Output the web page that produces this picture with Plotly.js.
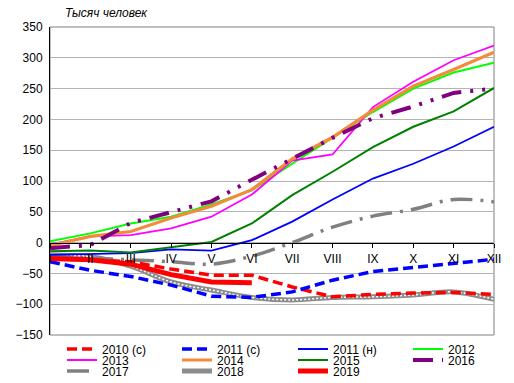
<!DOCTYPE html>
<html>
<head>
<meta charset="utf-8">
<script src="https://cdn.plot.ly/plotly-3.0.1.min.js"></script>
<style>html,body{margin:0;padding:0;background:#fff}#chart{width:514px;height:383px}</style>
</head>
<body>
<div id="chart"></div>
<script>
var months = ['I','II','III','IV','V','VI','VII','VIII','IX','X','XI','XII'];
var y2010c = [-26,-28,-31,-43,-53,-53,-72,-88,-84,-82,-81,-84];
var y2011c = [-31,-45,-55,-69,-87,-89,-80,-61,-47,-40,-34,-27];
var y2011n = [-20,-19,-17,-11,-13,4,34,70,104,128,156,188];
var y2012 = [2,15,31,42,62,85,128,170,212,250,276,292];
var y2013 = [-3,10,12,23,42,78,133,143,220,261,296,320];
var y2014 = [-5,10,18,40,59,86,136,171,215,254,281,309];
var y2015 = [-14,-13,-16,-7,1,31,77,115,155,188,213,251];
var y2016 = [-9,-4,32,50,67,102,136,170,202,221,243,250];
var y2017 = [-22,-25,-28,-31,-35,-22,0,25,43,54,70,66];
var y2018 = [-20,-23,-38,-64,-77,-89,-93,-89,-88,-85,-80,-92];
var y2019 = [-26,-28,-35,-52,-64,-65];

var names = ['2010 (с)','2011 (с)','2011 (н)','2012','2013','2014','2015','2016','2017','2018','2019'];

function tr(name, y, line, legend, extra) {
  var t = {type:'scatter', mode:'lines', name:name, x:months.slice(0, y.length), y:y,
           line:line, legend:legend, hoverinfo:'skip'};
  if (extra) for (var k in extra) t[k] = extra[k];
  return t;
}

// one legend per entry, laid out in a 4-column grid like the reference
var traces = [
  tr(names[9], y2018, {color:'#8c8c8c', width:5, shape:'spline'}, 'legend10'),
  tr('2018w', y2018, {color:'#ffffff', width:1.5, dash:'2px,2px', shape:'spline'}, 'legend10', {showlegend:false}),
  tr(names[8], y2017, {color:'#808080', width:3.5, dash:'22px,8px,3px,8px', shape:'spline'}, 'legend9'),
  tr(names[0], y2010c, {color:'#ff0000', width:3.5, dash:'10px,5px'}, 'legend'),
  tr(names[1], y2011c, {color:'#0000ff', width:3.5, dash:'10px,5px'}, 'legend2'),
  tr(names[2], y2011n, {color:'#0000ff', width:1.8}, 'legend3'),
  tr(names[3], y2012, {color:'#00ff00', width:2}, 'legend4'),
  tr(names[4], y2013, {color:'#ff00ff', width:1.8}, 'legend5'),
  tr(names[5], y2014, {color:'#f28c3c', width:3.2}, 'legend6'),
  tr(names[6], y2015, {color:'#008000', width:2}, 'legend7'),
  tr(names[7], y2016, {color:'#800080', width:4, dash:'20px,9px,3px,9px,3px,9px'}, 'legend8'),
  tr(names[10], y2019, {color:'#ff0000', width:5}, 'legend11')
];

var colX = [62, 177, 293, 408];
var rowY = [349, 360, 371];

function leg(i) {
  var c = i % 4, r = Math.floor(i / 4);
  return {orientation:'h', xref:'container', yref:'container', x:colX[c]/514, xanchor:'left',
          y:1-rowY[r]/383, yanchor:'middle', bgcolor:'rgba(0,0,0,0)', borderwidth:0,
          font:{family:'Liberation Sans, Arial, sans-serif', size:12, color:'#000'},
          itemclick:false, itemdoubleclick:false};
}

var layout = {
  width:514, height:383,
  margin:{l:50, r:20, t:27, b:48, autoexpand:false},
  paper_bgcolor:'#fff', plot_bgcolor:'#fff',
  font:{family:'Liberation Sans, Arial, sans-serif', size:12, color:'#000'},
  title:{text:'Тысяч человек', x:65/514, xanchor:'left', xref:'container', y:1-13/383, yanchor:'middle', yref:'container',
         font:{family:'Liberation Sans, Arial, sans-serif', size:12, style:'italic', color:'#000'}},
  xaxis:{type:'category', categoryorder:'array', categoryarray:months, range:[0,11],
         anchor:'free', position:0.3, showline:true, linecolor:'#000', linewidth:1.5,
         ticks:'outside', ticklen:4, tickcolor:'#000', tickwidth:1, showgrid:false, zeroline:false,
         tickfont:{size:12, color:'#000'}, fixedrange:true},
  yaxis:{range:[-150,350], dtick:50, tick0:0, showgrid:true, gridcolor:'#b4b4b4', gridwidth:1,
         zeroline:false, showline:true, linecolor:'#000', linewidth:1, ticks:'', ticklabelstandoff:4,
         tickfont:{size:12, color:'#000'}, fixedrange:true},
  shapes:[{type:'rect', xref:'paper', yref:'paper', x0:0, x1:1, y0:0, y1:1,
           line:{color:'#808080', width:1}, layer:'below'}],
  showlegend:true
};
layout.legend = leg(0);
for (var i = 1; i < 11; i++) layout['legend' + (i + 1)] = leg(i);

Plotly.newPlot('chart', traces, layout, {staticPlot:true, displayModeBar:false});
</script>
</body>
</html>
